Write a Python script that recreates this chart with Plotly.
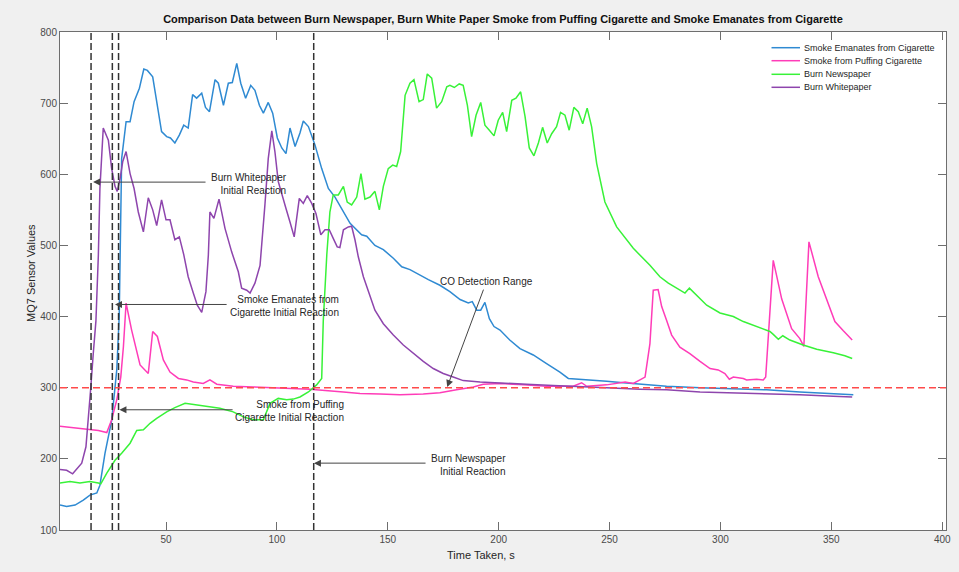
import plotly.graph_objects as go

# ---------------- data ----------------
emanate_t = [2.2, 5.2, 9, 12.7, 15.7, 18.8, 20.2, 22.5, 25.5, 27.8, 28.9, 30, 32, 33.8, 35.6, 38, 40, 41.6, 44,
             45.8, 48, 50.3, 52, 54, 56, 58, 60, 62, 63.8, 66.1, 67.8, 69.6, 72.1, 73.6, 75.9, 78.1, 79.9, 81.9,
             83.7, 85.9, 88.2, 90.1, 92.1, 93.9, 96.1, 98.1, 100.2, 102.2, 104.1, 105.9, 108.2, 110.4, 111.9,
             114.2, 117.2, 120.2, 123.2, 126.2, 129.2, 133, 138.2, 140.5, 144.2, 148, 152.5, 156.3, 160, 164.5,
             168.3, 173.5, 178, 182.6, 186.3, 188.1, 190.1, 191.9, 193.8, 195.8, 197.9, 200.6, 205, 209.6, 215.6,
             221.6, 227.6, 231.4, 236.7, 242.7, 248.7, 256.2, 263.7, 275.7, 290.8, 305.8, 320.8, 335.8, 350.9, 359.9]
emanate_v = [135, 133, 135, 142, 149, 152, 163, 208, 254, 325, 400, 622, 674, 674, 702, 721, 748, 746, 737,
             702, 660, 653, 651, 644, 655, 669, 665, 712, 707, 714, 694, 688, 733, 728, 697, 728, 729, 756,
             728, 707, 725, 718, 697, 686, 701, 686, 651, 637, 629, 665, 639, 658, 675,
             667, 641, 608, 580, 568, 552, 531, 515, 513, 500, 494, 482, 470, 466, 458,
             452, 444, 435, 424, 419, 421, 409, 409, 420, 397, 386, 381, 367, 355, 346,
             334, 322, 313, 312, 310, 309, 307, 305, 302, 300, 299, 297, 294, 292, 290]

puff_t = [2.2, 8.2, 14.2, 19.5, 23.3, 25.5, 27.8, 29.6, 30.8, 32, 34.5, 38.3, 42, 44, 46.1, 48.8, 51.8, 55.6,
          59.3, 62.3, 66.8, 69.8, 72.9, 80.3, 89.4, 99.9, 114.9, 130, 137.5, 146.5, 155.5, 166, 173.5, 181,
          188.6, 193, 200.6, 211.1, 221.6, 233.6, 237.4, 239.7, 248.7, 257, 260.7, 263.7, 266, 268.2, 269.7,
          271.9, 273.5, 275.7, 278, 281.7, 286.2, 290.8, 295.3, 299, 302, 304, 305.8, 310.3, 311.8, 316.3,
          319.3, 320.4, 323.8, 325.3, 327.6, 332.1, 335.8, 337.6, 339.9, 344.1, 349.4, 351.6, 355.4, 359.4]
puff_v = [246, 244, 242, 240, 237, 255, 283, 315, 358, 419, 381, 332, 320, 379, 372, 339, 322, 313,
          311, 308, 306, 311, 305, 302, 301, 300, 298, 294, 292, 291, 290, 291, 293, 297,
          301, 305, 306, 304, 302, 302, 307, 302, 304, 308, 306, 311, 315, 362, 437,
          438, 414, 395, 374, 357, 348, 337, 327, 325, 320, 312, 315, 313, 311, 312,
          311, 315, 479, 458, 425, 383, 369, 358, 505, 456, 412, 393, 380, 367]

news_t = [2.2, 6.7, 11.2, 15.7, 19.5, 20.6, 23.3, 27, 30, 33.8, 36.8, 39.8, 42.8, 45.8, 50.3, 54, 58.6, 63.8,
          68.4, 74.3, 80.3, 84.9, 89.4, 93.9, 96.9, 100.6, 104.4, 107.4, 110.4, 114.2, 117.9, 120.2, 120.9,
          122.5, 123.9, 125.4, 127.7, 130, 131.7, 133.7, 136, 137.9, 139.7, 142, 144.2, 146.2, 148, 150.2,
          152.2, 154, 155.8, 157.8, 160, 161.8, 164.1, 166, 167.8, 169.8, 172, 174.3, 176.6, 178, 180, 182.2,
          184, 185.9, 187.8, 189.8, 191.9, 193.8, 195.8, 197.9, 199.8, 201.8, 203.6, 205.9, 207.8, 209.9,
          211.9, 213.8, 215.9, 217.9, 219.8, 221.9, 223.9, 226.1, 227.9, 229.9, 231.8, 233.9, 235.9, 237.9,
          239.9, 241.9, 244.2, 246, 247.9, 253.2, 260.7, 268.2, 272.7, 276.5, 284, 286, 290, 293.8, 299.8,
          305.8, 310.3, 316.3, 322.3, 323.8, 326.1, 328.1, 331.3, 337.3, 343.4, 350.9, 356.1, 359.4]
news_v = [166, 168, 166, 168, 166, 165, 180, 198, 208, 222, 240, 241, 250, 257, 266, 272, 278, 276,
          274, 271, 266, 259, 255, 255, 278, 285, 283, 284, 287, 294, 304, 313, 393,
          487, 547, 571, 571, 583, 561, 557, 568, 601, 565, 568, 576, 550, 583, 608,
          613, 611, 632, 711, 728, 733, 702, 705, 741, 735, 693, 702, 723, 725, 722, 727,
          725, 697, 653, 683, 701, 669, 662, 654, 676, 687, 660, 704, 707, 716,
          681, 637, 626, 644, 666, 644, 657, 667, 687, 683, 662, 694, 688, 671,
          693, 667, 615, 588, 561, 526, 496, 472, 456, 447, 433, 440, 428, 416, 405,
          400, 393, 386, 379, 375, 368, 373, 367, 360, 354, 349, 345, 341]

white_t = [2.2, 5.2, 7.9, 9.7, 12, 13.9, 15, 16.1, 17.2, 18.4, 19.5, 20.2, 21.7, 24, 25.5, 27, 28, 29.3, 30.5,
           32, 33.8, 35.6, 37.5, 39.8, 42, 44, 45.8, 48, 50, 51.8, 54, 56, 58, 60, 62.3, 64.1, 66.1, 68, 69.1,
           69.8, 71.6, 73.9, 76.6, 79.6, 82.6, 84.1, 86.4, 87.9, 90.1, 92.4, 94.6, 96.1, 97.7, 99.1, 100.6,
           102.2, 104.1, 105.9, 107.8, 110.1, 111.9, 113.7, 115.7, 117.6, 119.8, 121.7, 123.6, 125.4, 127.2,
           128.4, 130, 132.2, 133.7, 135.2, 136.7, 139, 140.5, 144.2, 148, 152.5, 157, 161.5, 166, 170.5, 175,
           179.5, 184, 191.6, 200.6, 212.6, 224.6, 236.7, 248.7, 263.7, 275.7, 290.8, 305.8, 320.8, 335.8,
           350.9, 359.4]
white_v = [185, 184, 179, 185, 194, 217, 255, 301, 348, 394, 487, 580, 665, 648, 608, 583, 576, 594, 618,
           632, 601, 580, 547, 519, 567, 550, 528, 564, 536, 536, 508, 512, 487, 456, 433, 416, 406, 435, 487,
           547, 538, 565, 524, 491, 463, 440, 437, 433, 447, 472, 557, 622, 661, 632, 590,
           571, 552, 533, 512, 566, 559, 570, 559, 545, 515, 522, 522, 510, 498,
           497, 522, 526, 527, 508, 484, 456, 442, 409, 390, 374, 360, 348, 337, 327, 320,
           315, 310, 308, 307, 305, 303, 301, 300, 298, 297, 294, 293, 291, 290,
           288, 287]

series_names = ["Smoke Emanates from Cigarette", "Smoke from Puffing Cigarette",
                "Burn Newspaper", "Burn Whitepaper"]
series_colors = ["#2f8ad2", "#ff3cb8", "#38f238", "#8e45ad"]

reaction_times = [16.2, 25.8, 28.6, 116.6]   # vertical dashed markers
co_threshold = 300                             # CO detection range line

x_ticks = [50, 100, 150, 200, 250, 300, 350, 400]
y_ticks = [100, 200, 300, 400, 500, 600, 700, 800]
x_range = [2.2, 401.7]
y_range = [100, 800]

# arrow annotations: (head_x, head_y, tail_x, tail_y)
arrows = [(17.1, 589, 68.5, 589), (27.0, 417, 78.0, 417), (29.0, 269, 80.7, 269),
          (116.7, 194, 167.7, 194), (176.8, 301, 193.4, 440)]
labels = [("Burn Whitepaper<br>Initial Reaction", 105.5, 586, "right"),
          ("Smoke Emanates from<br>Cigarette Initial Reaction", 128.7, 415, "right"),
          ("Smoke from Puffing<br>Cigarette Initial Reaction", 131.2, 267, "right"),
          ("Burn Newspaper<br>Initial Reaction", 204.2, 191, "right"),
          ("CO Detection Range", 194.4, 449, "center")]

# ---------------- figure ----------------
FONT = "Liberation Sans, Arial, sans-serif"
fig = go.Figure()
for t, v, name, col in zip([emanate_t, puff_t, news_t, white_t],
                           [emanate_v, puff_v, news_v, white_v],
                           series_names, series_colors):
    fig.add_trace(go.Scatter(x=t, y=v, mode="lines", name=name,
                             line=dict(color=col, width=1.5), showlegend=False))

for rt in reaction_times:
    fig.add_shape(type="line", xref="x", yref="y", x0=rt, x1=rt, y0=y_range[0], y1=y_range[1],
                  line=dict(color="#333333", width=1.5, dash="7px,3px"))
fig.add_shape(type="line", xref="x", yref="y", x0=x_range[0], x1=x_range[1],
              y0=co_threshold, y1=co_threshold,
              line=dict(color="#ff4a4a", width=1.5, dash="7px,4px"))

for hx, hy, tx, ty in arrows:
    fig.add_annotation(x=hx, y=hy, ax=tx, ay=ty, xref="x", yref="y", axref="x", ayref="y",
                       text="", showarrow=True, arrowhead=2, arrowsize=1.4, arrowwidth=1,
                       arrowcolor="#444444")
for txt, lx, ly, al in labels:
    fig.add_annotation(x=lx, y=ly, xref="x", yref="y", text=txt, showarrow=False,
                       xanchor=al, yanchor="middle", align=al,
                       font=dict(family=FONT, size=10, color="#262626"))

# manual legend (compact MATLAB-like spacing)
plot_l, plot_r, plot_t, plot_b = 60, 946, 32, 530
W, H = plot_r - plot_l, plot_b - plot_t
leg_rows = [47.7, 60.7, 74.3, 87.3]
for name, col, py in zip(series_names, series_colors, leg_rows):
    yp = (plot_b - py) / H
    fig.add_shape(type="line", xref="paper", yref="paper",
                  x0=(771.5 - plot_l) / W, x1=(800 - plot_l) / W, y0=yp, y1=yp,
                  line=dict(color=col, width=1.5))
    fig.add_annotation(x=(802 - plot_l) / W, y=yp, xref="paper", yref="paper", text=name,
                       showarrow=False, xanchor="left", yanchor="middle",
                       font=dict(family=FONT, size=9, color="#262626"))

# axis titles (placed where the reference shows them)
fig.add_annotation(x=(481 - plot_l) / W, y=(plot_b - 555) / H, xref="paper", yref="paper",
                   text="Time Taken, s", showarrow=False, xanchor="center", yanchor="middle",
                   font=dict(family=FONT, size=11, color="#262626"))
fig.add_annotation(x=(31 - plot_l) / W, y=(plot_b - 273) / H, xref="paper", yref="paper",
                   text="MQ7 Sensor Values", showarrow=False, textangle=-90,
                   xanchor="center", yanchor="middle",
                   font=dict(family=FONT, size=11, color="#262626"))

axis_common = dict(showgrid=False, zeroline=False, showline=True, mirror="ticks",
                   linecolor="#6e6e6e", linewidth=1, ticks="inside", ticklen=8,
                   tickcolor="#6e6e6e", tickwidth=1,
                   tickfont=dict(family=FONT, size=10, color="#4a4a4a"))
fig.update_xaxes(range=x_range, tickvals=x_ticks, **axis_common)
fig.update_yaxes(range=y_range, tickvals=y_ticks, **axis_common)

fig.update_layout(
    width=959, height=572,
    margin=dict(l=plot_l, r=959 - plot_r, t=plot_t, b=572 - plot_b, autoexpand=False),
    paper_bgcolor="#f0f0f0", plot_bgcolor="#ffffff",
    title=dict(text="<b>Comparison Data between Burn Newspaper, Burn White Paper Smoke from Puffing "
                    "Cigarette and Smoke Emanates from Cigarette</b>",
               x=(plot_l + plot_r) / 2 / 959, xanchor="center", y=1 - 19 / 572, yanchor="middle",
               font=dict(family=FONT, size=11, color="#111111")),
    showlegend=False,
)

fig.write_html("out.html", config={"displayModeBar": False},
               post_script="document.body.style.margin='0';document.body.style.overflow='hidden';")
